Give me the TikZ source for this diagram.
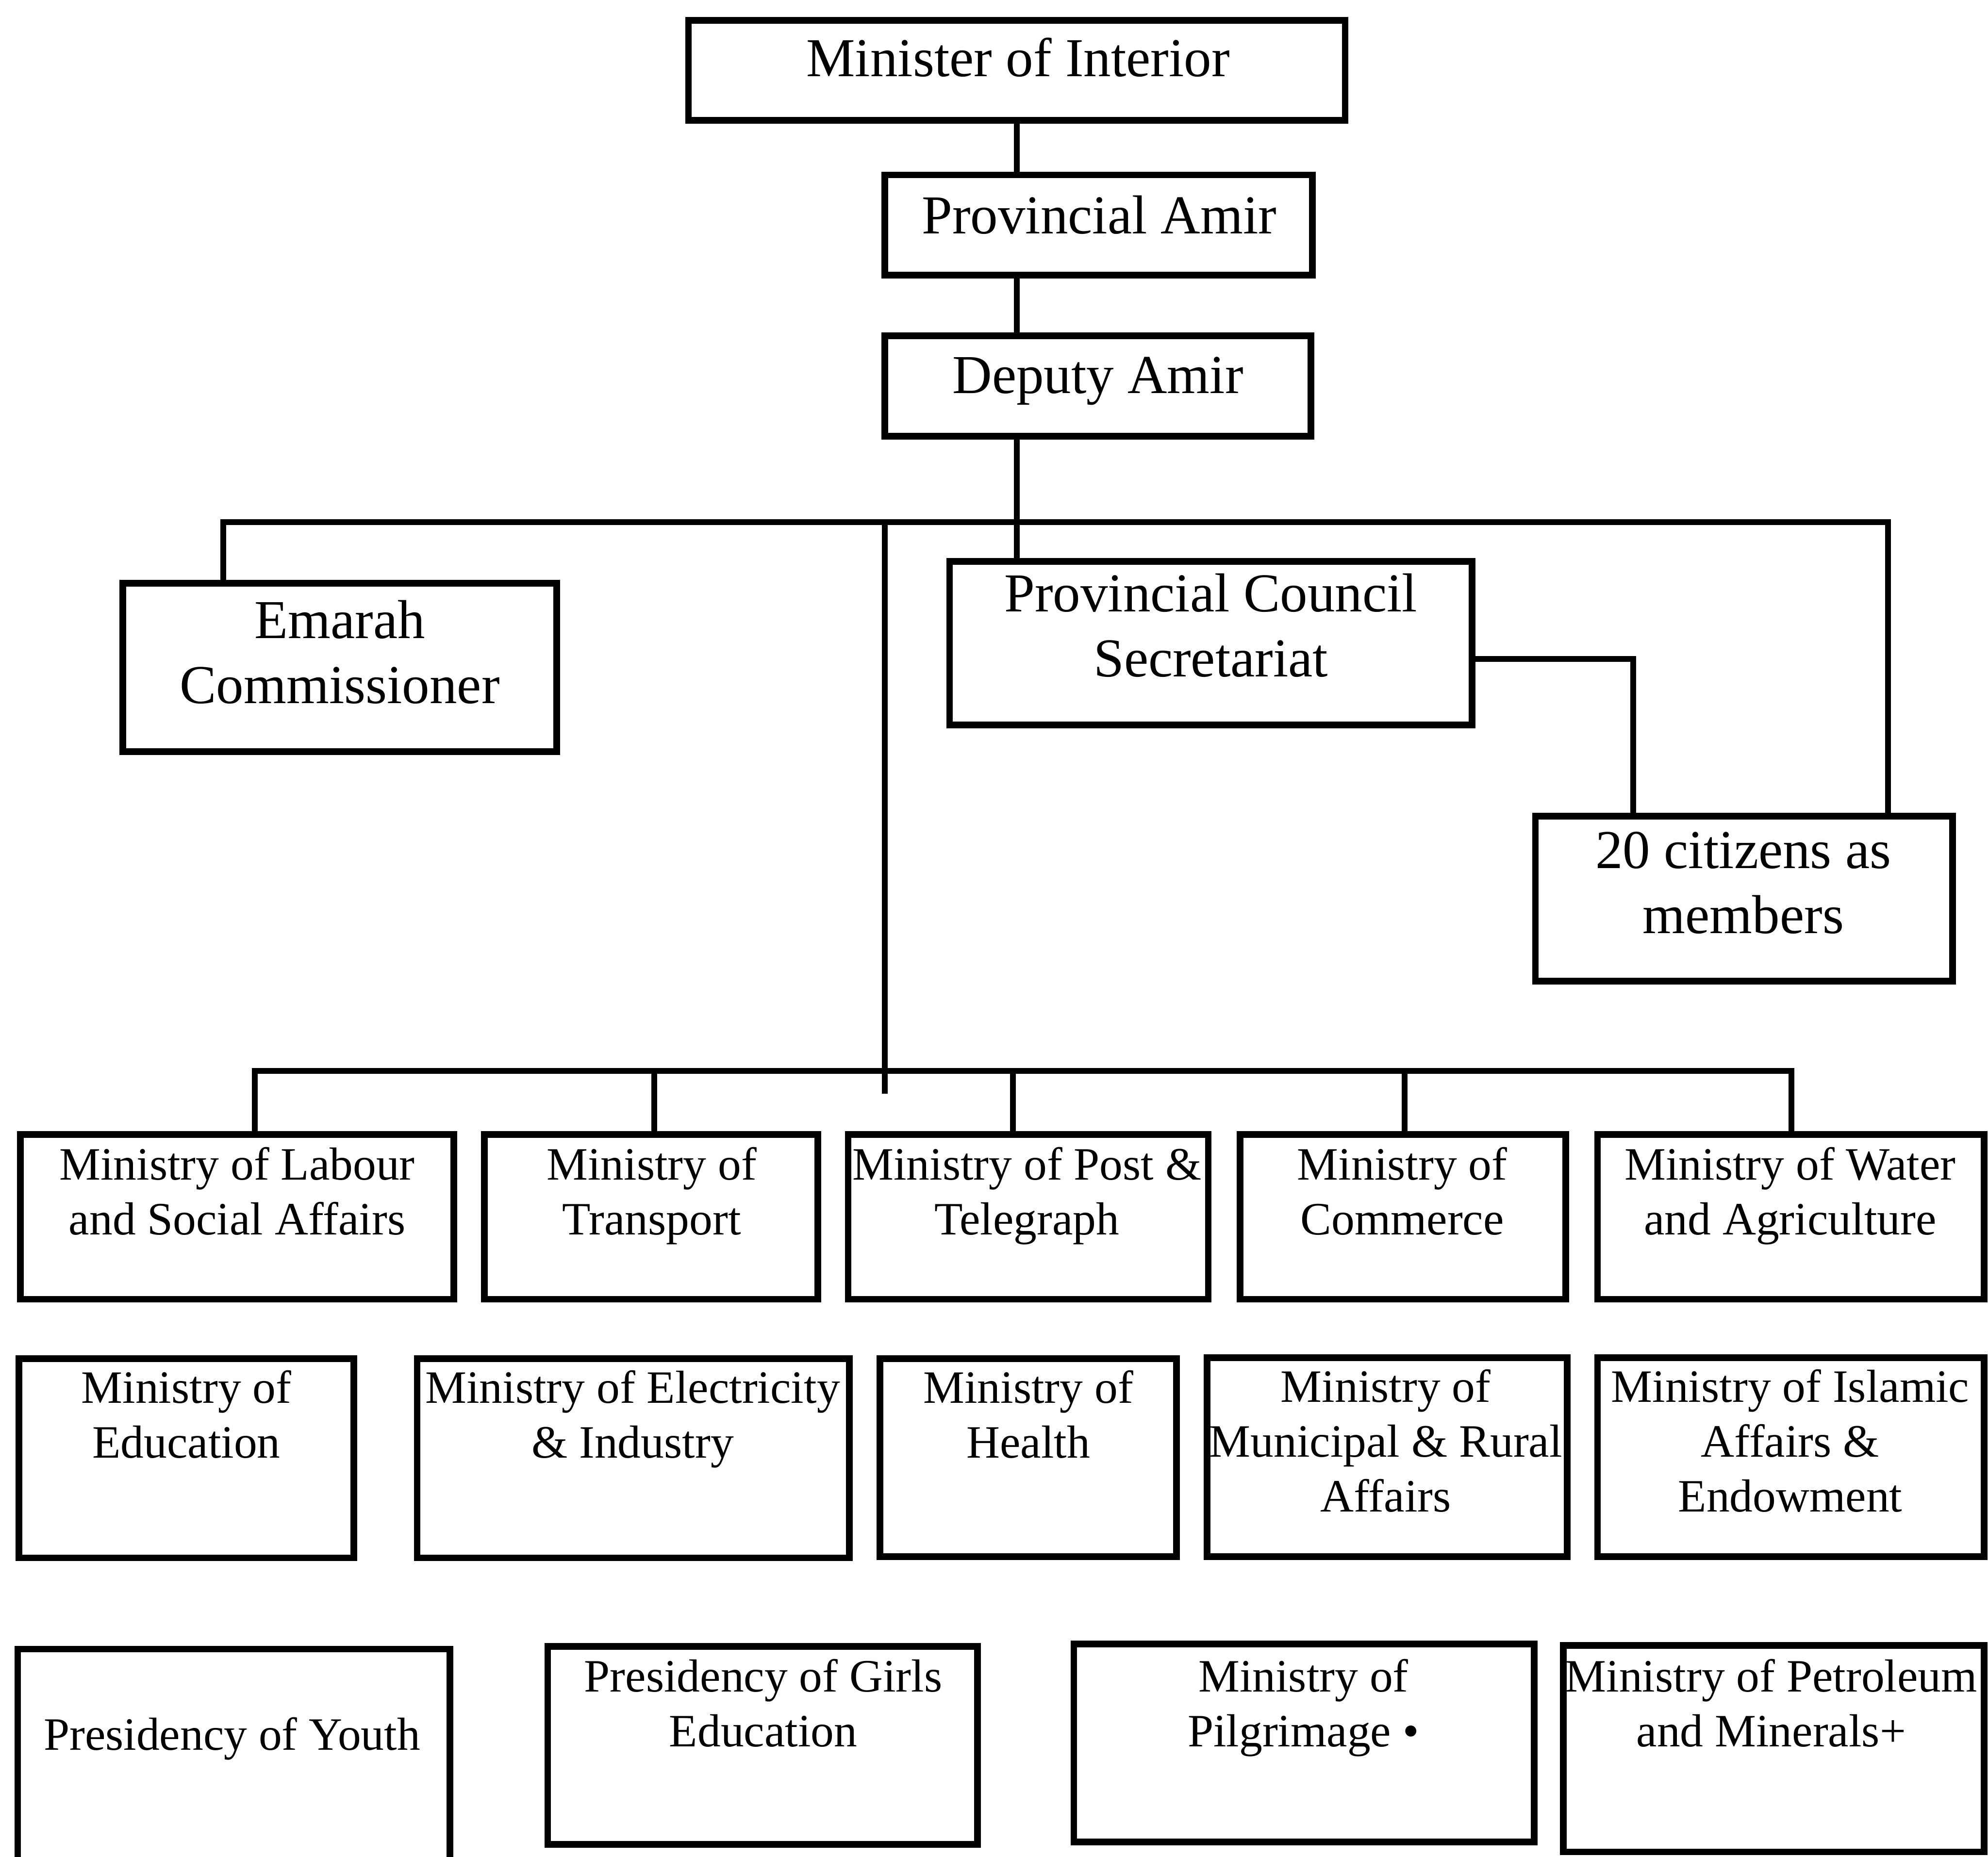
\documentclass[tikz,border=0pt]{standalone}
\usepackage{fontspec}
\setmainfont{Liberation Serif}
\tikzset{
  box/.style={draw, line width=1.5pt, inner sep=0pt},
  link/.style={line width=1.3pt},
  big/.style={font=\fontsize{12.3}{14.6}\selectfont, align=center, inner sep=0pt,
    execute at begin node=\strut, execute at end node=\strut},
  small/.style={font=\fontsize{10.4}{12.3}\selectfont, align=center, inner sep=0pt,
    execute at begin node=\strut, execute at end node=\strut},
}
\newcommand\mkbox[5]{\node[box, minimum width={(#4-#2)*0.01cm}, minimum height={(#5-#3)*0.01cm}] (#1) at ({(#2+#4)/2},{(#3+#5)/2}) {};}
\begin{document}
\begin{tikzpicture}[x=0.01cm, y=-0.01cm]
\useasboundingbox (0,0) rectangle (1568,1465);
% top chain
\mkbox{mi}{543}{16}{1061}{95}
\mkbox{pa}{698}{138}{1035}{217}
\mkbox{da}{698}{265}{1034}{344}
\mkbox{ec}{97}{460}{439}{593}
\mkbox{pc}{749}{443}{1161}{572}
\mkbox{ci}{1211}{644}{1540}{774}
% row 1
\mkbox{lab}{16}{895}{358}{1025}
\mkbox{tra}{382}{895}{645}{1025}
\mkbox{pos}{669}{895}{953}{1025}
\mkbox{com}{978}{895}{1235}{1025}
\mkbox{wat}{1260}{895}{1565}{1025}
% row 2
\mkbox{edu}{15}{1072}{279}{1229}
\mkbox{ele}{329}{1072}{670}{1229}
\mkbox{hea}{694}{1072}{928}{1228}
\mkbox{mun}{952}{1071}{1236}{1228}
\mkbox{isl}{1260}{1071}{1565}{1228}
% row 3
\mkbox{you}{14}{1301}{355}{1480}
\mkbox{gir}{432}{1299}{771}{1455}
\mkbox{pil}{847}{1297}{1210}{1453}
\mkbox{pet}{1233}{1298}{1565}{1461}
% texts
\node[big] (mi-t) at (803,50) {Minister of Interior};
\node[big] (pa-t) at (867,174) {Provincial Amir};
\node[big] (da-t) at (866,300) {Deputy Amir};
\node[big] (ec-t) at (268,522) {Emarah\\Commissioner};
\node[big] (pc-t) at (955,501) {Provincial Council\\Secretariat};
\node[big] (ci-t) at (1375,704) {20 citizens as\\members};
\node[small] (lab-t) at (187,946) {Ministry of Labour\\and Social Affairs};
\node[small] (tra-t) at (514,946) {Ministry of\\Transport};
\node[small] (pos-t) at (810,946) {Ministry of Post \&\\Telegraph};
\node[small] (com-t) at (1106,946) {Ministry of\\Commerce};
\node[small] (wat-t) at (1412,946) {Ministry of Water\\and Agriculture};
\node[small] (edu-t) at (147,1122) {Ministry of\\Education};
\node[small] (ele-t) at (499,1122) {Ministry of Electricity\\\& Industry};
\node[small] (hea-t) at (811,1122) {Ministry of\\Health};
\node[small] (mun-t) at (1093,1143) {Ministry of\\Municipal \& Rural\\Affairs};
\node[small] (isl-t) at (1412,1143) {Ministry of Islamic\\Affairs \&\\Endowment};
\node[small] (you-t) at (183,1372) {Presidency of Youth};
\node[small] (gir-t) at (602,1350) {Presidency of Girls\\Education};
\node[small] (pil-t) at (1028,1350) {Ministry of\\Pilgrimage •};
\node[small] (pet-t) at (1397,1350) {Ministry of Petroleum\\and Minerals+};
% connectors
\coordinate (sp) at (802,0);
\draw[link] (sp |- mi.south) -- (sp |- pa.north);
\draw[link] (sp |- pa.south) -- (sp |- da.north);
\draw[link] (sp |- da.south) -- (sp |- pc.north);
\coordinate (busL) at (176,412);
\coordinate (busR) at (1489,412);
\draw[link] (busL |- ec.north) -- (busL) -- (busR) -- (busR |- ci.north);
\coordinate (pcc) at (1288,520);
\draw[link] (pc.east |- pcc) -- (pcc) -- (pcc |- ci.north);
\coordinate (mv) at (698,412);
\coordinate (mvEnd) at (698,863);
\draw[link] (mv) -- (mvEnd);
\coordinate (mbL) at (201,845);
\coordinate (mbR) at (1413,845);
\draw[link] (mbL |- lab.north) -- (mbL) -- (mbR) -- (mbR |- wat.north);
\coordinate (d2) at (516,845);
\coordinate (d3) at (799,845);
\coordinate (d4) at (1108,845);
\draw[link] (d2) -- (d2 |- tra.north);
\draw[link] (d3) -- (d3 |- pos.north);
\draw[link] (d4) -- (d4 |- com.north);
\end{tikzpicture}
\end{document}
